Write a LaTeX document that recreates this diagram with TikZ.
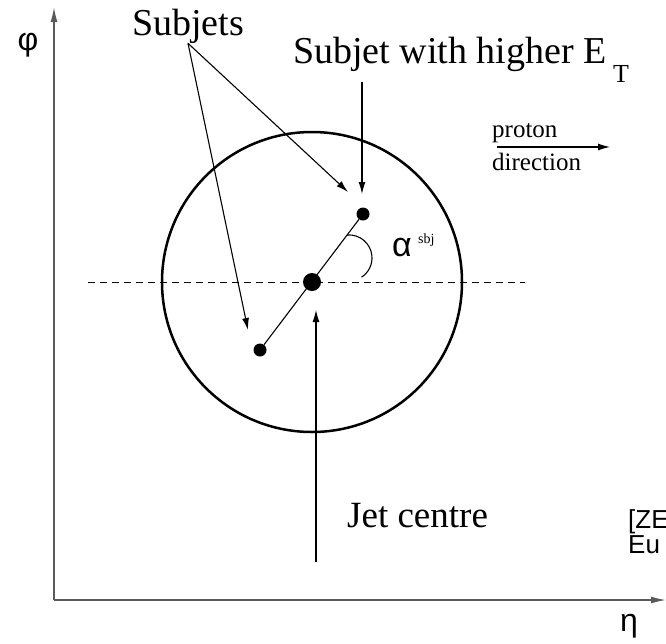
\documentclass[tikz,border=0pt]{standalone}
\usepackage{fontspec}
\setmainfont{Liberation Serif}
\newfontfamily\sansf{Liberation Sans}
\usetikzlibrary{arrows.meta}
\definecolor{axisgray}{HTML}{5A5A5A}
\definecolor{tinta}{HTML}{000000}
\tikzset{
  dot/.style={circle,fill=tinta,inner sep=0pt,minimum size=13pt},
  bigdot/.style={dot,minimum size=18pt},
  big/.style={inner sep=0pt,font=\fontsize{38}{40}\selectfont},
  arr/.style={-{Latex[length=12pt,width=7pt]},line width=1.1pt},
}

\begin{document}
\begin{tikzpicture}[x=1pt,y=-1pt]
\useasboundingbox (0,0) rectangle (666,643);

% axes
\coordinate (orig) at (54,600);
\coordinate (ytip) at (54,7);
\coordinate (xtip) at (666,600);
\draw[axisgray,line width=1.5pt,-{Latex[length=15pt,width=7pt]}] (orig) -- (ytip);
\draw[axisgray,line width=1.5pt,-{Latex[length=15pt,width=7pt]}] (orig) -- (xtip);
\node[font=\sansf\fontsize{32}{34}\selectfont] (phi) at (28,45) {φ};
\node[font=\sansf\fontsize{32}{34}\selectfont] (eta) at (629,626) {η};

% jet cone and eta line
\draw[line width=2.5pt] (312,282) circle[radius=150];
\coordinate (dl) at (88,282);
\coordinate (dr) at (525,282);
\draw[line width=1pt,dash pattern=on 7pt off 5pt] (dl) -- (dr);

% subjets
\node[bigdot] (jc) at (312,282) {};
\node[dot] (sja) at (363,214) {};
\node[dot] (sjb) at (260,350) {};
\draw[line width=1.1pt] (sjb) -- (sja);
\draw[line width=1.1pt] (347,235) arc[start angle=-95,end angle=57,radius=23];
\node[font=\sansf\fontsize{34}{36}\selectfont,inner sep=0pt,anchor=base west] (alpha) at (392,256) {α};
\node[font=\fontsize{14}{16}\selectfont,inner sep=0pt,anchor=base west] (sbj) at (418,243) {sbj};

% labels
\node[big,anchor=base] (subj) at (188,35) {Subjets};
\node[big,anchor=base west] (high) at (293,63) {Subjet with higher E};
\node[inner sep=0pt,anchor=base west,font=\fontsize{26}{28}\selectfont] (et) at (613,82) {T};
\node[big,font=\fontsize{37}{40}\selectfont,anchor=base west] (jct) at (347,527) {Jet centre};
\node[inner sep=0pt,anchor=base west,font=\fontsize{25}{27}\selectfont] (prot) at (492,137) {proton};
\node[inner sep=0pt,anchor=base west,font=\fontsize{25}{27}\selectfont] (dirn) at (492,170) {direction};
\node[inner sep=0pt,anchor=base west,font=\sansf\fontsize{26}{28}\selectfont] (ref1) at (628,528) {[ZE};
\node[inner sep=0pt,anchor=base west,font=\sansf\fontsize{26}{28}\selectfont] (ref2) at (628,553) {Eu};

% arrows
\coordinate (pa) at (497,147);
\coordinate (pb) at (610,147);
\draw[arr] (pa) -- (pb);
\coordinate (ea) at (348,192);
\coordinate (eb) at (248,330);
\draw[arr] (subj.south) -- (ea);
\draw[arr] (subj.south) -- (eb);
\coordinate (ha) at (362,82);
\coordinate (hb) at (362,194);
\draw[arr] (ha) -- (hb);
\coordinate (ja) at (316,562);
\coordinate (jb) at (316,310);
\draw[arr] (ja) -- (jb);

\end{tikzpicture}
\end{document}
